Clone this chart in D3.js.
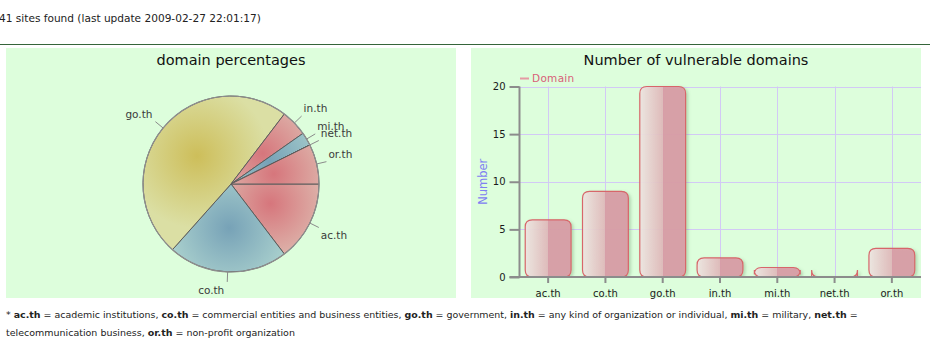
<!DOCTYPE html>
<html>
<head>
<meta charset="utf-8">
<script src="https://cdn.jsdelivr.net/npm/d3@7"></script>
<style>
  html, body { margin: 0; padding: 0; background: #ffffff; }
  svg { display: block; }
</style>
</head>
<body>
<svg id="page" width="930" height="343"></svg>
<script>
// Vulnerable .th domains by second-level domain
const domains = ["ac.th", "co.th", "go.th", "in.th", "mi.th", "net.th", "or.th"];
const siteCounts = [6, 9, 20, 2, 1, 0, 3];
const yTicks = [0, 5, 10, 15, 20];
const lastUpdate = "2009-02-27 22:01:17";
const footerLine1 = [
  ["* ", false], ["ac.th", true], [" = academic institutions, ", false],
  ["co.th", true], [" = commercial entities and business entities, ", false],
  ["go.th", true], [" = government, ", false],
  ["in.th", true], [" = any kind of organization or individual, ", false],
  ["mi.th", true], [" = military, ", false],
  ["net.th", true], [" =", false]
];
const footerLine2 = [
  ["telecommunication business, ", false], ["or.th", true], [" = non-profit organization", false]
];

const svg = d3.select("#page");
const defs = svg.append("defs");
const FONT = "DejaVu Sans, Verdana, sans-serif";

// size a text so that it spans the given width
function fitWidth(sel, baseSize, width) {
  const natural = sel.node().getComputedTextLength();
  sel.attr("font-size", (baseSize * width / natural).toFixed(2));
}

// ---- page header ----
const header = svg.append("text")
  .attr("x", -1).attr("y", 22)
  .attr("font-family", FONT).attr("font-size", 12).attr("fill", "#222")
  .text(`${d3.sum(siteCounts)} sites found (last update ${lastUpdate})`);
fitWidth(header, 12, 262);

svg.append("line")
  .attr("x1", 0).attr("x2", 930).attr("y1", 44.5).attr("y2", 44.5)
  .attr("stroke", "#35653a").attr("stroke-width", 1.2);

// ---- panels ----
const panelFill = "#ddfedc";
svg.append("rect").attr("x", 6).attr("y", 48).attr("width", 450).attr("height", 250).attr("fill", panelFill);
svg.append("rect").attr("x", 471).attr("y", 48).attr("width", 450).attr("height", 250).attr("fill", panelFill);

// ---- pie chart ----
const pieG = svg.append("g");
pieG.append("text")
  .attr("x", 231).attr("y", 65).attr("text-anchor", "middle")
  .attr("font-family", FONT).attr("font-size", 14.5).attr("fill", "#111")
  .text("domain percentages");

const cx = 231, cy = 184, R = 88;
const palette = [
  { dark: "#d6767c", light: "#e0c8ba" },  // rose
  { dark: "#77a2b7", light: "#b2d8d1" },  // blue
  { dark: "#cdbe5a", light: "#dbdfa4" }   // olive
];
const pie = d3.pie().sort(null).value(d => d)
  .startAngle(Math.PI / 2).endAngle(Math.PI / 2 + 2 * Math.PI);
const arcs = pie(siteCounts);
const arc = d3.arc().innerRadius(0).outerRadius(R);

// each slice shades from its centroid out to the rim
arcs.forEach((a, i) => {
  const c = palette[i % palette.length];
  const [gx, gy] = arc.centroid(a);
  const g = defs.append("radialGradient")
    .attr("id", "slice" + i)
    .attr("gradientUnits", "userSpaceOnUse")
    .attr("cx", gx).attr("cy", gy).attr("r", 72);
  g.append("stop").attr("offset", "0").attr("stop-color", c.dark);
  g.append("stop").attr("offset", "1").attr("stop-color", c.light);
});

const slices = pieG.append("g").attr("transform", `translate(${cx},${cy})`);
slices.selectAll("path.slice")
  .data(arcs)
  .join("path")
  .attr("class", "slice")
  .attr("d", arc)
  .attr("fill", (d, i) => `url(#slice${i})`)
  .attr("stroke", "#5c5c5c")
  .attr("stroke-width", 1)
  .attr("stroke-linejoin", "round");
slices.append("circle").attr("r", R).attr("fill", "none")
  .attr("stroke", "#8e8e8e").attr("stroke-width", 1.2);

// leader lines and labels
arcs.forEach((a, i) => {
  const mid = (a.startAngle + a.endAngle) / 2;
  const dx = Math.sin(mid), dy = -Math.cos(mid);
  const x0 = dx * R, y0 = dy * R;
  const x1 = dx * (R + 10), y1 = dy * (R + 10);
  slices.append("line")
    .attr("x1", x0).attr("y1", y0).attr("x2", x1).attr("y2", y1)
    .attr("stroke", "#8a8a8a").attr("stroke-width", 1);
  slices.append("text")
    .attr("x", dx >= 0 ? x1 + 2 : x1 - 3)
    .attr("y", dy > 0 ? y1 + 12 : y1 - 4)
    .attr("text-anchor", dx >= 0 ? "start" : "end")
    .attr("font-family", FONT).attr("font-size", 10.5).attr("fill", "#3a3a3a")
    .text(domains[i]);
});

// ---- bar chart ----
const barG = svg.append("g");
barG.append("text")
  .attr("x", 696).attr("y", 65).attr("text-anchor", "middle")
  .attr("font-family", FONT).attr("font-size", 14.5).attr("fill", "#111")
  .text("Number of vulnerable domains");

const x = d3.scaleBand().domain(domains).range([519.5, 920.5])
  .paddingInner(0.2).paddingOuter(0.1);
const y = d3.scaleLinear().domain([0, 20]).range([277, 86.5]);
const plotTop = y(20), plotBottom = y(0), plotRight = 921;

// grid
const grid = barG.append("g").attr("stroke", "#d2c9f5").attr("stroke-width", 1);
yTicks.filter(t => t > 0).forEach(t => {
  grid.append("line").attr("x1", 519.5).attr("x2", plotRight)
    .attr("y1", Math.round(y(t)) + 0.5).attr("y2", Math.round(y(t)) + 0.5);
});
domains.forEach(d => {
  const xc = Math.round(x(d) + x.bandwidth() / 2) + 0.5;
  grid.append("line").attr("x1", xc).attr("x2", xc).attr("y1", plotTop).attr("y2", plotBottom);
});

// legend
barG.append("line").attr("x1", 520).attr("x2", 529).attr("y1", 78.5).attr("y2", 78.5)
  .attr("stroke", "#e59aa4").attr("stroke-width", 2);
barG.append("text").attr("x", 532).attr("y", 82)
  .attr("font-family", FONT).attr("font-size", 10.5).attr("fill", "#d95f78")
  .attr("letter-spacing", 0.3)
  .text("Domain");

// y axis label
barG.append("text")
  .attr("transform", `translate(487,${(plotTop + plotBottom) / 2}) rotate(-90)`)
  .attr("text-anchor", "middle")
  .attr("font-family", FONT).attr("font-size", 11.5).attr("fill", "#7f80f2")
  .text("Number");

// bars: gradient body, rounded corners, soft shadow
const barGrad = defs.append("linearGradient").attr("id", "barFill")
  .attr("x1", "0").attr("x2", "1").attr("y1", "0").attr("y2", "0");
[["0", "#eee6e2"], ["0.5", "#e0b8ba"], ["0.5", "#d99ba5"], ["1", "#d99ba5"]]
  .forEach(([o, c]) => barGrad.append("stop").attr("offset", o).attr("stop-color", c));
const shadow = defs.append("filter").attr("id", "barShadow")
  .attr("x", "-20%").attr("y", "-20%").attr("width", "150%").attr("height", "150%");
shadow.append("feDropShadow").attr("dx", 2).attr("dy", 1.5).attr("stdDeviation", 1.5)
  .attr("flood-color", "#5f8f5f").attr("flood-opacity", 0.35);
defs.append("clipPath").attr("id", "plotClip")
  .append("rect").attr("x", 519).attr("y", 60).attr("width", 410).attr("height", plotBottom - 60 + 1);

function roundedBar(x0, top, w, bottom, r) {
  const p = d3.path();
  p.moveTo(x0, top + r);
  p.quadraticCurveTo(x0, top, x0 + r, top);
  p.lineTo(x0 + w - r, top);
  p.quadraticCurveTo(x0 + w, top, x0 + w, top + r);
  p.lineTo(x0 + w, bottom - r);
  p.quadraticCurveTo(x0 + w, bottom, x0 + w - r, bottom);
  p.lineTo(x0 + r, bottom);
  p.quadraticCurveTo(x0, bottom, x0, bottom - r);
  p.closePath();
  return p.toString();
}

barG.append("g").attr("clip-path", "url(#plotClip)")
  .selectAll("path.bar")
  .data(domains.map((d, i) => ({ d, v: siteCounts[i] })))
  .join("path")
  .attr("class", "bar")
  .attr("d", o => roundedBar(x(o.d), y(o.v), x.bandwidth(), y(0), 7))
  .attr("fill", "url(#barFill)")
  .attr("fill-opacity", 0.92)
  .attr("stroke", "#d7666a")
  .attr("stroke-width", 1.2)
  .attr("filter", "url(#barShadow)");

// axes
const yAxis = barG.append("g").attr("transform", "translate(519.5,0)")
  .call(d3.axisLeft(y).tickValues(yTicks).tickSize(10).tickPadding(4));
const xAxis = barG.append("g").attr("transform", `translate(0,${plotBottom})`)
  .call(d3.axisBottom(x).tickSize(6).tickPadding(4).tickSizeOuter(0));
[yAxis, xAxis].forEach(ax => {
  ax.select(".domain").attr("stroke", "#8c8c8c").attr("stroke-width", 2);
  ax.selectAll(".tick line").attr("stroke", "#8c8c8c").attr("stroke-width", 2);
  ax.selectAll(".tick text").attr("font-family", FONT).attr("font-size", 10).attr("fill", "#1a1a1a");
});
yAxis.select(".domain").attr("d", `M0,${plotTop}V${plotBottom}`);
xAxis.select(".domain").attr("d", `M509.5,0H${plotRight}`);
xAxis.selectAll(".tick text").attr("dy", "0.95em");

// ---- footnote ----
function footLine(parts, yPos, width) {
  const t = svg.append("text")
    .attr("x", 6).attr("y", yPos)
    .attr("font-family", FONT).attr("font-size", 11).attr("fill", "#222")
    .attr("xml:space", "preserve");
  parts.forEach(([s, b]) => t.append("tspan").attr("font-weight", b ? "bold" : "normal").text(s));
  fitWidth(t, 11, width);
}
footLine(footerLine1, 318, 853);
footLine(footerLine2, 336, 289);
</script>
</body>
</html>
